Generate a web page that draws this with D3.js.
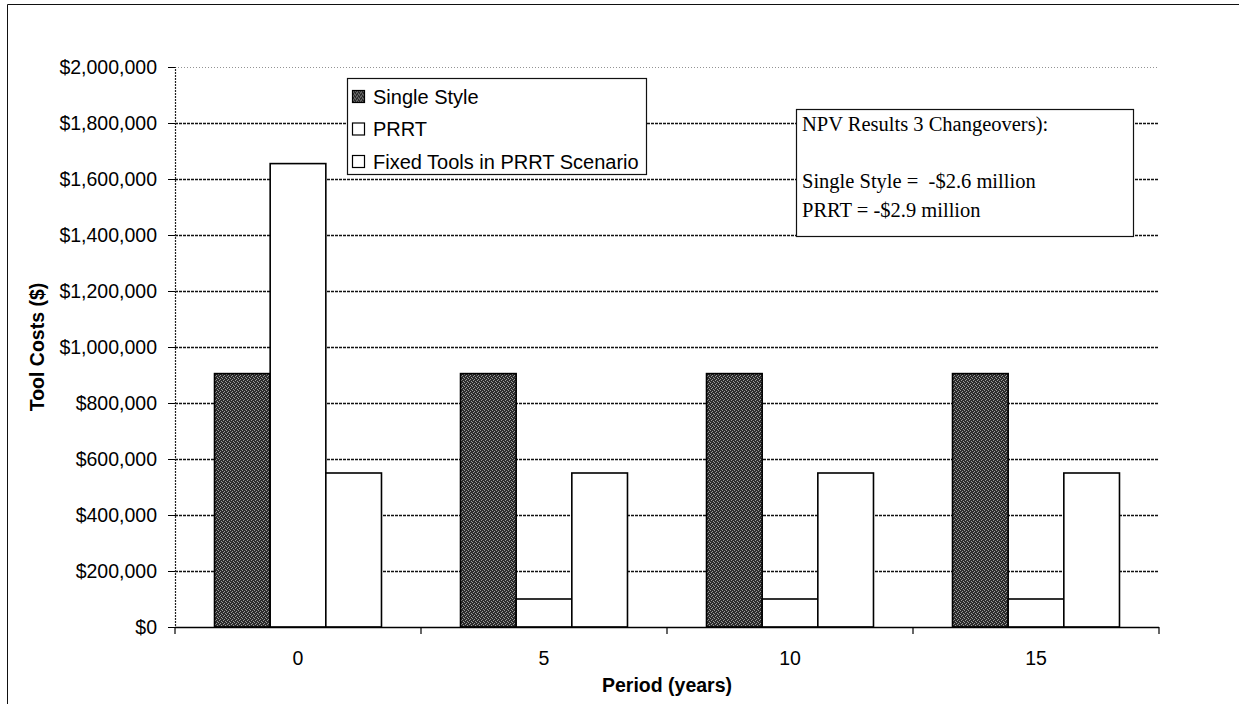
<!DOCTYPE html>
<html>
<head>
<meta charset="utf-8">
<script src="https://cdn.jsdelivr.net/npm/d3@7"></script>
<style>
  html, body { margin: 0; padding: 0; background: #fff; }
  svg { display: block; }
</style>
</head>
<body>
<svg id="chart" width="1239" height="704"></svg>
<script>
// ---- Data ----
const categories = ["0", "5", "10", "15"];
const seriesNames = ["Single Style", "PRRT", "Fixed Tools in PRRT Scenario"];
const singleStyle = [905000, 905000, 905000, 905000];
const prrt = [1655000, 100000, 100000, 100000];
const fixedTools = [550000, 550000, 550000, 550000];
const yTicks = [0, 200000, 400000, 600000, 800000, 1000000, 1200000, 1400000, 1600000, 1800000, 2000000];
const npvLines = ["NPV Results 3 Changeovers):", "", "Single Style =  -$2.6 million", "PRRT = -$2.9 million"];

const seriesValues = [singleStyle, prrt, fixedTools];

const svg = d3.select("#chart");
const sans = "'Liberation Sans', Arial, sans-serif";
const serif = "'Liberation Serif', 'Times New Roman', serif";

// halftone pattern for the dark series
const defs = svg.append("defs");
const pat = defs.append("pattern").attr("id", "half").attr("width", 4).attr("height", 4)
  .attr("patternUnits", "userSpaceOnUse");
pat.append("rect").attr("width", 4).attr("height", 4).attr("fill", "#2c2c2c");
[[0,0],[2,1],[1,3],[3,2]].forEach(([a,b]) =>
  pat.append("rect").attr("x", a).attr("y", b).attr("width", 1).attr("height", 1).attr("fill", "#9a9a9a"));

// outer frame (right/bottom edges fall outside the picture)
svg.append("path").attr("d", "M7.5,704 L7.5,4.5 L1239,4.5")
  .attr("fill", "none").attr("stroke", "#111").attr("stroke-width", 1);

const pLeft = 175, pRight = 1159, pTop = 67, pBottom = 627;

const y = d3.scaleLinear().domain([0, 2000000]).range([pBottom, pTop]);
const x0 = d3.scaleBand().domain(categories).range([pLeft, pRight]).padding(0);
const x1 = d3.scaleBand().domain(seriesNames).range([0, x0.bandwidth()])
  .paddingInner(0).paddingOuter(0.71);

// gridlines
svg.append("g").selectAll("line").data(yTicks.filter(d => d > 0)).join("line")
  .attr("x1", pLeft).attr("x2", pRight)
  .attr("y1", d => Math.round(y(d)) + 0.5).attr("y2", d => Math.round(y(d)) + 0.5)
  .attr("stroke", d => d === 2000000 ? "#777" : "#111")
  .attr("stroke-width", d => d === 2000000 ? 0.8 : 1.3)
  .attr("stroke-dasharray", d => d === 2000000 ? "1,2" : "3,1");

// bars
const fills = ["url(#half)", "#fff", "#fff"];
const groups = svg.append("g").selectAll("g").data(categories).join("g")
  .attr("transform", c => `translate(${x0(c)},0)`);
groups.selectAll("rect").data((c, i) => seriesNames.map((s, k) => ({ s, k, v: seriesValues[k][i] })))
  .join("rect")
  .attr("x", d => x1(d.s))
  .attr("width", x1.bandwidth())
  .attr("y", d => y(d.v))
  .attr("height", d => y(0) - y(d.v))
  .attr("fill", d => fills[d.k])
  .attr("stroke", "#000")
  .attr("stroke-width", 1.6);

// Y axis
const yAxis = svg.append("g").attr("transform", `translate(${pLeft},0)`)
  .call(d3.axisLeft(y).tickValues(yTicks).tickSize(7).tickPadding(11)
    .tickFormat(d => "$" + d3.format(",")(d)));
yAxis.select(".domain").attr("stroke", "#222").attr("stroke-dasharray", "2,1").attr("stroke-width", 1.2);
yAxis.selectAll(".tick line").attr("stroke", "#000");
yAxis.selectAll("text").attr("font-family", sans).attr("font-size", "19.5px").attr("fill", "#000");

// X axis
const xAxis = svg.append("g").attr("transform", `translate(0,${pBottom})`)
  .call(d3.axisBottom(x0).tickSize(0).tickPadding(24));
xAxis.select(".domain").remove();
xAxis.selectAll("text").attr("font-family", sans).attr("font-size", "19.5px").attr("fill", "#000");
svg.append("line").attr("x1", pLeft).attr("x2", pRight).attr("y1", pBottom + 0.5).attr("y2", pBottom + 0.5)
  .attr("stroke", "#000").attr("stroke-width", 1.5);
const bounds = categories.map(c => x0(c)).concat([x0(categories[categories.length - 1]) + x0.bandwidth()]);
svg.append("g").selectAll("line").data(bounds).join("line")
  .attr("x1", d => d).attr("x2", d => d).attr("y1", pBottom).attr("y2", pBottom + 7)
  .attr("stroke", "#000").attr("stroke-width", 1.2);

// axis titles
svg.append("text").attr("transform", `translate(44,${(pTop + pBottom) / 2}) rotate(-90)`)
  .attr("text-anchor", "middle").attr("font-family", sans).attr("font-weight", "bold")
  .attr("font-size", "19.5px").text("Tool Costs ($)");
svg.append("text").attr("x", (pLeft + pRight) / 2).attr("y", 692)
  .attr("text-anchor", "middle").attr("font-family", sans).attr("font-weight", "bold")
  .attr("font-size", "19.5px").text("Period (years)");

// legend
const lg = svg.append("g");
lg.append("rect").attr("x", 347.5).attr("y", 78.5).attr("width", 299).attr("height", 96)
  .attr("fill", "#fff").attr("stroke", "#111").attr("stroke-width", 1.2);
const li = lg.selectAll("g").data(seriesNames).join("g")
  .attr("transform", (d, i) => `translate(352,${96.5 + i * 32.5})`);
li.append("rect").attr("x", 0.5).attr("y", -6).attr("width", 12).attr("height", 12)
  .attr("fill", (d, i) => fills[i]).attr("stroke", "#000").attr("stroke-width", 1.2);
li.append("text").attr("x", 21).attr("y", 7).attr("font-family", sans).attr("font-size", "20px")
  .text(d => d);

// NPV box
const nb = svg.append("g");
nb.append("rect").attr("x", 796.5).attr("y", 109.5).attr("width", 337).attr("height", 127)
  .attr("fill", "#fff").attr("stroke", "#111").attr("stroke-width", 1.2);
nb.selectAll("text").data(npvLines).join("text")
  .attr("x", 802).attr("y", (d, i) => 131 + i * 28.5)
  .attr("font-family", serif).attr("font-size", "20.5px").attr("fill", "#000")
  .style("white-space", "pre")
  .text(d => d);
</script>
</body>
</html>
